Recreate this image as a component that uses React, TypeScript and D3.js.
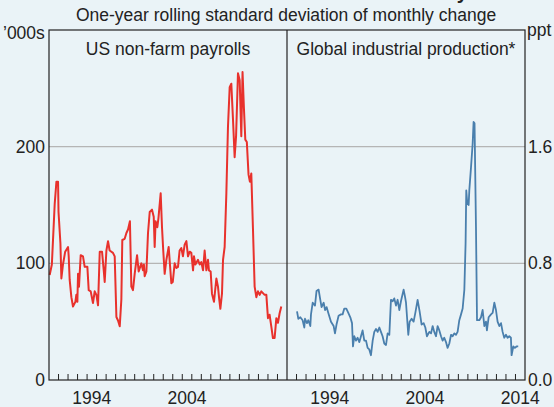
import React from 'react';
import * as d3 from 'd3';

// US non-farm payrolls, '000s (decimal year, value)
const payrollDates = [
  1990.07, 1990.3, 1990.6, 1990.78, 1990.95, 1991.0, 1991.2, 1991.3, 1991.47, 1991.7,
  1992.0, 1992.07, 1992.17, 1992.35, 1992.52, 1992.77, 1992.87, 1992.98, 1993.05, 1993.15,
  1993.33, 1993.57, 1993.75, 1994.03, 1994.17, 1994.38, 1994.62, 1994.8, 1994.98, 1995.15,
  1995.33, 1995.57, 1995.75, 1995.85, 1996.03, 1996.2, 1996.37, 1996.72, 1996.9, 1997.08,
  1997.25, 1997.43, 1997.6, 1997.7, 1997.95, 1998.13, 1998.3, 1998.5, 1998.65, 1998.82,
  1999.0, 1999.25, 1999.42, 1999.7, 1999.87, 1999.97, 2000.05, 2000.23, 2000.4, 2000.58,
  2000.82, 2001.0, 2001.1, 2001.2, 2001.38, 2001.5, 2001.73, 2001.87, 2002.0, 2002.15,
  2002.33, 2002.57, 2002.85, 2003.0, 2003.2, 2003.38, 2003.55, 2003.72, 2003.9, 2004.07,
  2004.25, 2004.43, 2004.6, 2004.78, 2004.95, 2005.13, 2005.23, 2005.38, 2005.65, 2005.83,
  2006.0, 2006.18, 2006.35, 2006.53, 2006.7, 2006.8, 2006.98, 2007.12, 2007.33, 2007.58,
  2007.75, 2007.87, 2008.0, 2008.17, 2008.28, 2008.45, 2008.63, 2008.8, 2008.98, 2009.15,
  2009.33, 2009.5, 2009.65, 2009.85, 2010.03, 2010.2, 2010.33, 2010.47, 2010.62, 2010.78,
  2010.96, 2011.1, 2011.25, 2011.42, 2011.6, 2011.78, 2011.95, 2012.13, 2012.3, 2012.65,
  2012.83, 2013.0, 2013.17, 2013.35, 2013.52, 2013.7, 2013.88, 2014.05, 2014.22, 2014.4,
];
const payrollValues = [
  90, 99, 151, 170, 170, 144, 117, 87, 99, 110,
  114, 106, 86, 71, 63, 67, 73, 67, 91, 80,
  107, 106, 97, 97, 77, 76, 66, 76, 73, 64,
  110, 110, 94, 84, 111, 119, 111, 109, 106, 54,
  51, 46, 69, 120, 121, 126, 129, 136, 80, 77,
  91, 107, 93, 100, 94, 99, 89, 93, 126, 144,
  146, 140, 114, 136, 131, 139, 160, 131, 111, 91,
  103, 114, 83, 84, 100, 96, 97, 111, 113, 106,
  116, 119, 106, 110, 109, 94, 106, 99, 103, 99,
  101, 94, 111, 94, 103, 94, 93, 74, 67, 87,
  80, 70, 61, 74, 103, 114, 160, 217, 251, 254,
  223, 191, 209, 263, 257, 209, 264, 234, 206, 204,
  176, 170, 177, 131, 80, 71, 76, 73, 76, 73,
  73, 53, 56, 46, 36, 36, 53, 49, 57, 63,
];

// Global industrial production, ppt
const ipDates = [
  1991.05, 1991.19, 1991.4, 1991.64, 1991.82, 1991.89, 1992.1, 1992.24, 1992.45, 1992.52,
  1992.7, 1992.94, 1993.1, 1993.32, 1993.5, 1993.63, 1993.85, 1994.0, 1994.16, 1994.34,
  1994.62, 1994.9, 1995.04, 1995.2, 1995.42, 1995.67, 1995.84, 1996.02, 1996.23, 1996.44,
  1996.65, 1996.83, 1996.93, 1997.07, 1997.25, 1997.42, 1997.6, 1997.77, 1997.94, 1998.12,
  1998.3, 1998.47, 1998.64, 1998.82, 1999.0, 1999.17, 1999.35, 1999.52, 1999.7, 1999.87,
  2000.04, 2000.22, 2000.4, 2000.57, 2000.75, 2000.92, 2001.1, 2001.27, 2001.45, 2001.62,
  2001.8, 2001.97, 2002.25, 2002.4, 2002.5, 2002.74, 2002.88, 2003.09, 2003.3, 2003.48,
  2003.72, 2003.93, 2004.14, 2004.35, 2004.53, 2004.7, 2004.95, 2005.13, 2005.3, 2005.47,
  2005.65, 2005.82, 2006.0, 2006.18, 2006.35, 2006.52, 2006.7, 2006.87, 2007.05, 2007.23,
  2007.4, 2007.57, 2007.75, 2007.92, 2008.1, 2008.28, 2008.45, 2008.63, 2008.76, 2008.83,
  2008.94, 2009.08, 2009.15, 2009.33, 2009.5, 2009.6, 2009.7, 2009.85, 2009.96, 2010.2,
  2010.38, 2010.55, 2010.73, 2010.9, 2011.0, 2011.18, 2011.43, 2011.6, 2011.78, 2011.95,
  2012.12, 2012.3, 2012.48, 2012.65, 2012.82, 2013.0, 2013.17, 2013.35, 2013.52, 2013.59,
  2013.77, 2013.94, 2014.11, 2014.29,
];
const ipValues = [
  0.47, 0.42, 0.43, 0.41, 0.36, 0.42, 0.39, 0.41, 0.37, 0.45,
  0.53, 0.51, 0.61, 0.62, 0.55, 0.5, 0.53, 0.48, 0.5, 0.46,
  0.4, 0.37, 0.32, 0.38, 0.44, 0.45, 0.45, 0.49, 0.49, 0.46,
  0.43, 0.39, 0.23, 0.3, 0.27, 0.29, 0.26, 0.3, 0.34, 0.27,
  0.27, 0.22, 0.21, 0.17, 0.27, 0.33, 0.35, 0.33, 0.36, 0.33,
  0.3, 0.25, 0.24, 0.32, 0.31, 0.55, 0.54, 0.56, 0.51, 0.55,
  0.48, 0.54, 0.62, 0.57, 0.53, 0.31, 0.4, 0.42, 0.4, 0.46,
  0.55, 0.47, 0.38, 0.39, 0.36, 0.3, 0.33, 0.32, 0.37, 0.33,
  0.3, 0.37, 0.34, 0.3, 0.27, 0.29, 0.26, 0.22, 0.25, 0.31,
  0.3, 0.32, 0.31, 0.33, 0.41, 0.45, 0.49, 0.62, 0.94, 1.3,
  1.21, 1.2, 1.3, 1.46, 1.62, 1.77, 1.76, 1.05, 0.41, 0.41,
  0.43, 0.48, 0.37, 0.4, 0.34, 0.43, 0.45, 0.46, 0.53, 0.48,
  0.4, 0.37, 0.39, 0.33, 0.29, 0.31, 0.29, 0.3, 0.29, 0.17,
  0.23, 0.22, 0.23, 0.23,
];

const leftTicks = [0, 100, 200];
const rightTicks = [0, 0.8, 1.6];
const leftYearLabels = [1994, 2004];
const rightYearLabels = [1994, 2004, 2014];

const W = 554;
const H = 407;
const top = 30;
const bottom = 380;
const xL = d3.scaleLinear().domain([1990, 2015]).range([49, 287]);
const xR = d3.scaleLinear().domain([1990, 2015]).range([287, 525]);
const yL = d3.scaleLinear().domain([0, 300]).range([bottom, top]);
const yR = d3.scaleLinear().domain([0, 2.4]).range([bottom, top]);

const font = 'Arial, "Liberation Sans", sans-serif';
const fs = 17.5;
const ink = '#222';
const bg = '#eaf3f7';

export default function App() {
  const payrollLine = d3
    .line<number>()
    .x((_, i) => xL(payrollDates[i]))
    .y((d) => yL(d))(payrollValues);
  const ipLine = d3
    .line<number>()
    .x((_, i) => xR(ipDates[i]))
    .y((d) => yR(d))(ipValues);

  const years = d3.range(1991, 2015);

  return (
    <svg width={W} height={H} style={{ position: 'absolute', left: 0, top: 0 }} fontFamily={font}>
      <rect width={W} height={H} fill={bg} />
      {/* main title sits above the crop, only its descender shows */}
      <text x={468} y={-1} textAnchor="end" fontSize={20} fontWeight="bold" fill={ink}>
        Volatility
      </text>
      <text x={286} y={21} textAnchor="middle" fontSize={fs} fill={ink}>
        One-year rolling standard deviation of monthly change
      </text>

      {/* gridlines */}
      {leftTicks.filter((t) => t > 0).map((t) => (
        <line key={t} x1={xL(1990)} x2={xR(2015)} y1={yL(t)} y2={yL(t)} stroke="#b5b5b5" strokeWidth={1.3} />
      ))}

      {/* year ticks */}
      {years.map((y) => (
        <g key={y}>
          <line x1={xL(y)} x2={xL(y)} y1={bottom} y2={bottom - 6} stroke={ink} strokeWidth={1} />
          <line x1={xR(y)} x2={xR(y)} y1={bottom} y2={bottom - 6} stroke={ink} strokeWidth={1} />
        </g>
      ))}

      <path d={payrollLine ?? ''} fill="none" stroke="#e8312c" strokeWidth={2} strokeLinejoin="round" />
      <path d={ipLine ?? ''} fill="none" stroke="#4a7fad" strokeWidth={1.8} strokeLinejoin="round" />

      {/* frame */}
      <rect x={xL(1990)} y={top} width={xR(2015) - xL(1990)} height={bottom - top} fill="none" stroke={ink} strokeWidth={1.2} />
      <line x1={xR(1990)} x2={xR(1990)} y1={top} y2={bottom} stroke={ink} strokeWidth={1.2} />

      <text x={(xL(1990) + xL(2015)) / 2} y={55} textAnchor="middle" fontSize={fs} fill={ink}>
        US non-farm payrolls
      </text>
      <text x={(xR(1990) + xR(2015)) / 2} y={55} textAnchor="middle" fontSize={fs} fill={ink}>
        Global industrial production*
      </text>

      <text x={3} y={39} fontSize={fs} fill={ink}>’000s</text>
      <text x={527} y={36} fontSize={fs} fill={ink}>ppt</text>

      {leftTicks.map((t) => (
        <text key={t} x={45} y={yL(t) + 6} textAnchor="end" fontSize={fs} fill={ink}>
          {t}
        </text>
      ))}
      {rightTicks.map((t) => (
        <text key={t} x={528} y={yR(t) + 6} fontSize={fs} fill={ink}>
          {t.toFixed(1)}
        </text>
      ))}

      {leftYearLabels.map((y) => (
        <text key={'l' + y} x={xL(y + 0.5)} y={404} textAnchor="middle" fontSize={fs} fill={ink}>
          {y}
        </text>
      ))}
      {rightYearLabels.map((y) => (
        <text key={'r' + y} x={xR(y + 0.5)} y={404} textAnchor="middle" fontSize={fs} fill={ink}>
          {y}
        </text>
      ))}
    </svg>
  );
}
